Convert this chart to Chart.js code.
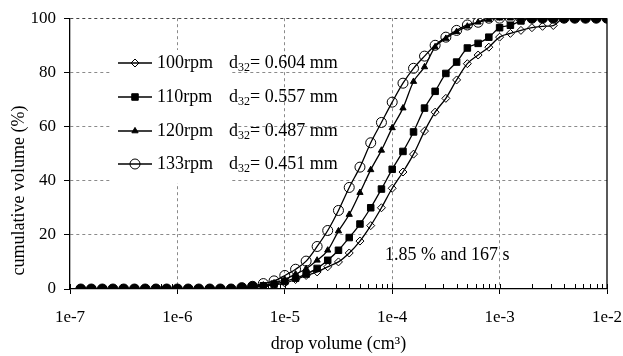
<!DOCTYPE html>
<html>
<head>
<meta charset="utf-8">
<script src="https://cdn.jsdelivr.net/npm/chart.js@4/dist/chart.umd.min.js"></script>
<style>
  html, body { margin: 0; padding: 0; background: #fff; }
  #wrap { width: 623px; height: 356px; }
</style>
</head>
<body>
<div id="wrap"><canvas id="chart"></canvas></div>
<script>
// drop volume (cm3), 10 points per decade
var dropVolume = [
  1.26e-7, 1.58e-7, 2.00e-7, 2.51e-7, 3.16e-7, 3.98e-7, 5.01e-7, 6.31e-7, 7.94e-7, 1.00e-6,
  1.26e-6, 1.58e-6, 2.00e-6, 2.51e-6, 3.16e-6, 3.98e-6, 5.01e-6, 6.31e-6, 7.94e-6, 1.00e-5,
  1.26e-5, 1.58e-5, 2.00e-5, 2.51e-5, 3.16e-5, 3.98e-5, 5.01e-5, 6.31e-5, 7.94e-5, 1.00e-4,
  1.26e-4, 1.58e-4, 2.00e-4, 2.51e-4, 3.16e-4, 3.98e-4, 5.01e-4, 6.31e-4, 7.94e-4, 1.00e-3,
  1.26e-3, 1.58e-3, 2.00e-3, 2.51e-3, 3.16e-3, 3.98e-3, 5.01e-3, 6.31e-3, 7.94e-3, 1.00e-2
];

// cumulative volume (%)
var rpm100 = [
  0, 0, 0, 0, 0, 0, 0, 0, 0, 0, 0, 0, 0, 0, 0,
  0.3, 0.6, 1, 1.5, 2.2, 3.5, 5, 6.3, 8.2, 10, 13.3, 17.7, 23.4, 30, 37.2,
  43.2, 49.8, 58.3, 65.3, 70.4, 77.2, 83.2, 86.4, 89.3, 93, 94.4, 95.5, 96.5, 97, 97.3,
  100, 100, 100, 100, 100
];
var rpm110 = [
  0, 0, 0, 0, 0, 0, 0, 0, 0, 0, 0, 0, 0, 0, 0,
  0.3, 0.7, 1.2, 1.8, 2.8, 4, 5.5, 7.6, 10.6, 14.3, 19, 24, 30, 36.9, 44.2,
  50.8, 58, 66.8, 73, 79.6, 83.8, 89, 90.7, 93, 96.5, 97.4, 99,
  100, 100, 100, 100, 100, 100, 100, 100
];
var rpm120 = [
  0, 0, 0, 0, 0, 0, 0, 0, 0, 0, 0, 0, 0, 0, 0,
  0.4, 0.8, 1.4, 2.2, 3.5, 5.5, 7.5, 10.6, 14.3, 21.4, 27.5, 35.6, 44, 51.2, 59.5,
  66.8, 76.6, 82, 89.4, 92.5, 95, 97, 98.5, 99.5,
  100, 100, 100, 100, 100, 100, 100, 100, 100, 100, 100
];
var rpm133 = [
  0, 0, 0, 0, 0, 0, 0, 0, 0, 0, 0, 0, 0, 0, 0,
  0.5, 1, 2, 3, 5, 7.3, 10.3, 15.7, 21.6, 29, 37.5, 45, 54, 61.5, 69,
  76, 81.5, 86, 90, 93, 95.5, 97.5, 98.5,
  100, 100, 100, 100, 100, 100, 100, 100, 100, 100, 100, 100
];

var seriesNames = ['100rpm', '110rpm', '120rpm', '133rpm'];
var d32Values = ['0.604', '0.557', '0.487', '0.451'];
var xTickValues = [1e-7, 1e-6, 1e-5, 1e-4, 1e-3, 1e-2];
var xTickLabels = ['1e-7', '1e-6', '1e-5', '1e-4', '1e-3', '1e-2'];
var noteText = '1.85 % and 167 s';

var SERIF = '"Liberation Serif", "DejaVu Serif", serif';

function pts(ys) {
  return dropVolume.map(function (x, i) { return {x: x, y: ys[i]}; });
}

// circles look solid where they sit on top of the other markers
function circleFill(ctx) {
  var i = ctx.dataIndex;
  if (i === undefined) return 'rgba(0,0,0,0)';
  return Math.abs(rpm133[i] - rpm110[i]) < 0.35 ? '#000' : 'rgba(0,0,0,0)';
}

var overlay = {
  id: 'overlay',
  afterDraw: function (chart) {
    var ctx = chart.ctx, a = chart.chartArea, xs = chart.scales.x;
    ctx.save();
    // minor ticks pointing inward
    ctx.strokeStyle = '#000';
    ctx.lineWidth = 1;
    ctx.beginPath();
    for (var d = -7; d < -2; d++) {
      for (var m = 1; m <= 9; m++) {
        var px = Math.round(xs.getPixelForValue(m * Math.pow(10, d))) + 0.5;
        ctx.moveTo(px, a.bottom);
        ctx.lineTo(px, a.bottom - 5);
      }
    }
    var pr = Math.round(xs.getPixelForValue(1e-2)) + 0.5;
    ctx.moveTo(pr, a.bottom);
    ctx.lineTo(pr, a.bottom - 5);
    ctx.stroke();

    // right frame
    ctx.lineWidth = 1.3;
    ctx.beginPath();
    ctx.moveTo(a.right, a.top);
    ctx.lineTo(a.right, a.bottom);
    ctx.stroke();

    // legend
    ctx.fillStyle = '#fff';
    ctx.fillRect(110, 50, 121, 133);
    var rows = [63, 97, 131, 164];
    var metas = chart.data.datasets;
    for (var r = 0; r < rows.length; r++) {
      var y = rows[r];
      var ds = metas[r];
      ctx.strokeStyle = '#000';
      ctx.lineWidth = 1.3;
      ctx.beginPath();
      ctx.moveTo(118, y);
      ctx.lineTo(152, y);
      ctx.stroke();
      ctx.fillStyle = ds.legendFill;
      ctx.lineWidth = 1;
      Chart.helpers.drawPoint(ctx, {
        pointStyle: ds.pointStyle, radius: ds.pointRadius, borderWidth: 1, rotation: 0
      }, 135, y);
      ctx.fillStyle = '#000';
      ctx.textBaseline = 'middle';
      ctx.textAlign = 'left';
      ctx.font = '18px ' + SERIF;
      ctx.fillText(seriesNames[r], 157, y);
      var tx = 229;
      ctx.fillText('d', tx, y);
      tx += ctx.measureText('d').width;
      ctx.font = '12px ' + SERIF;
      ctx.fillText('32', tx, y + 5);
      tx += ctx.measureText('32').width;
      ctx.font = '18px ' + SERIF;
      ctx.fillText('= ' + d32Values[r] + ' mm', tx, y);
    }

    // note
    ctx.font = '18px ' + SERIF;
    ctx.fillText(noteText, 385, 255);
    ctx.restore();
  }
};

new Chart(document.getElementById('chart'), {
  type: 'line',
  data: {
    datasets: [
      {
        label: seriesNames[0], data: pts(rpm100),
        pointStyle: 'rectRot', pointRadius: 4, legendFill: 'rgba(0,0,0,0)',
        pointBackgroundColor: 'rgba(0,0,0,0)'
      },
      {
        label: seriesNames[1], data: pts(rpm110),
        pointStyle: 'rect', pointRadius: 4.6, legendFill: '#000',
        pointBackgroundColor: '#000'
      },
      {
        label: seriesNames[2], data: pts(rpm120),
        pointStyle: 'triangle', pointRadius: 3.6, legendFill: '#000',
        pointBackgroundColor: '#000'
      },
      {
        label: seriesNames[3], data: pts(rpm133),
        pointStyle: 'circle', pointRadius: 5, legendFill: 'rgba(0,0,0,0)',
        pointBackgroundColor: circleFill
      }
    ].map(function (ds) {
      ds.borderColor = '#000';
      ds.borderWidth = 1.3;
      ds.pointBorderColor = '#000';
      ds.pointBorderWidth = 1;
      ds.pointHoverRadius = ds.pointRadius;
      ds.cubicInterpolationMode = 'monotone';
      ds.fill = false;
      return ds;
    })
  },
  options: {
    animation: false,
    responsive: true,
    maintainAspectRatio: false,
    layout: { padding: { top: 16, right: 16, left: 0, bottom: 0 } },
    plugins: {
      legend: { display: false },
      tooltip: { enabled: false }
    },
    scales: {
      x: {
        type: 'logarithmic',
        min: 1e-7,
        max: 1e-2,
        afterBuildTicks: function (s) {
          s.ticks = xTickValues.map(function (v) { return {value: v}; });
        },
        afterFit: function (s) {
          s.height = 67;
          s.paddingRight = 0;
          s.paddingLeft = 0;
        },
        ticks: {
          autoSkip: false,
          maxRotation: 0,
          padding: 13,
          color: '#000',
          font: { family: SERIF, size: 17 },
          callback: function (v, i) { return xTickLabels[i]; }
        },
        grid: {
          color: function (c) {
            if (!c.tick) return 'rgba(0,0,0,0)';
            var v = c.tick.value;
            return (v <= 1e-7 || v >= 1e-2) ? 'rgba(0,0,0,0)' : '#8a8a8a';
          },
          tickColor: '#000',
          tickLength: 5,
          lineWidth: 1
        },
        border: { color: '#000', width: 1.3, dash: [3, 3] },
        title: {
          display: true,
          text: 'drop volume (cm³)',
          color: '#000',
          font: { family: SERIF, size: 18 },
          padding: { top: 0, bottom: 1 }
        }
      },
      y: {
        min: 0,
        max: 100,
        afterFit: function (s) { s.width = 70; },
        ticks: {
          stepSize: 20,
          padding: 8,
          color: '#000',
          font: { family: SERIF, size: 17 }
        },
        grid: {
          color: function (c) {
            if (!c.tick) return 'rgba(0,0,0,0)';
            var v = c.tick.value;
            if (v === 0) return 'rgba(0,0,0,0)';
            return v === 100 ? '#444' : '#8a8a8a';
          },
          tickColor: '#000',
          tickLength: 6,
          lineWidth: 1
        },
        border: { color: '#000', width: 1.3, dash: [3, 3] },
        title: {
          display: true,
          text: '   cumulative volume (%)',
          align: 'start',
          color: '#000',
          font: { family: SERIF, size: 18 },
          padding: { top: 8, bottom: 0 }
        }
      }
    }
  },
  plugins: [overlay]
});
</script>
</body>
</html>
